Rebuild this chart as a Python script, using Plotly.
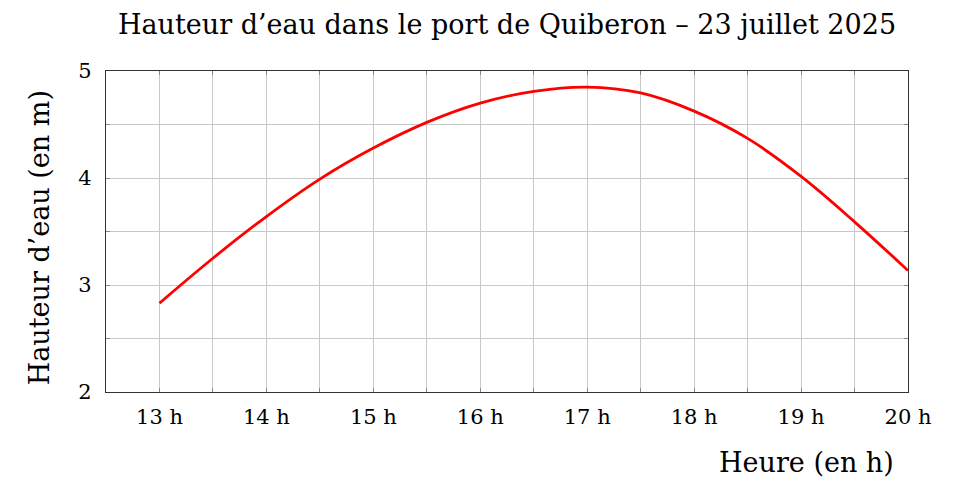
"""
Hauteur d'eau dans le port de Quiberon, 23 juillet 2025
"""
import plotly.graph_objects as go

# Données (heure, hauteur en m)
heures = [13, 13.5, 14, 14.5, 15, 15.5, 16, 16.5, 17, 17.5, 18, 18.5, 19, 19.5, 20]
hauteurs = [2.83, 3.25, 3.64, 3.99, 4.28, 4.52, 4.70, 4.81, 4.85, 4.795, 4.625, 4.37, 4.015, 3.59, 3.135]

ticks_x = [13, 14, 15, 16, 17, 18, 19, 20]
labels_x = [str(h) + " h" for h in ticks_x]
ticks_y = [2, 3, 4, 5]

TITRE = "Hauteur d’eau dans le port de Quiberon – 23 juillet 2025"
FONT = "DejaVu Serif"

# la page html ajoute 8 px de marge autour de la figure
DECAL = 8

fig = go.Figure()
fig.add_trace(go.Scatter(x=heures, y=hauteurs, mode="lines",
                         line=dict(color="#ff0000", width=2.8, shape="spline", smoothing=1.1),
                         showlegend=False, hoverinfo="x+y"))

axe = dict(showline=True, linecolor="#333333", linewidth=1.2, mirror="ticks",
           ticks="inside", ticklen=4, tickcolor="#888888",
           gridcolor="#c8c8c8", gridwidth=1, zeroline=False,
           tickfont=dict(family=FONT, size=21, color="black"))

fig.update_xaxes(range=[12.5, 20], tickvals=ticks_x, ticktext=labels_x,
                 minor=dict(dtick=0.5, tick0=12.5, showgrid=True, gridcolor="#c8c8c8",
                            ticks="inside", ticklen=4, tickcolor="#888888"),
                 ticklabelstandoff=6, **axe)
fig.update_yaxes(range=[2, 5], tickvals=ticks_y,
                 minor=dict(dtick=0.5, tick0=2, showgrid=True, gridcolor="#c8c8c8",
                            ticks="inside", ticklen=4, tickcolor="#888888"),
                 ticklabelstandoff=9, **axe)

fig.add_annotation(text="Heure (en h)", xref="paper", yref="paper", x=0.985, y=-0.22,
                   xanchor="right", yanchor="middle", showarrow=False,
                   font=dict(family=FONT, size=27, color="black"))
fig.add_annotation(text="Hauteur d’eau (en m)", xref="paper", yref="paper", x=-0.083, y=0.48,
                   xanchor="center", yanchor="middle", textangle=-90, showarrow=False,
                   font=dict(family=FONT, size=27, color="black"))

fig.update_layout(
    width=959, height=493,
    margin=dict(l=106 - DECAL, r=51 + DECAL, t=71 - DECAL, b=101 + DECAL),
    plot_bgcolor="white", paper_bgcolor="white",
    title=dict(text=TITRE, x=0.5, xref="paper", y=1 - (25 - DECAL) / 493, yref="container",
               xanchor="center", yanchor="middle",
               font=dict(family=FONT, size=27, color="black")),
)

fig.write_html("out.html")
